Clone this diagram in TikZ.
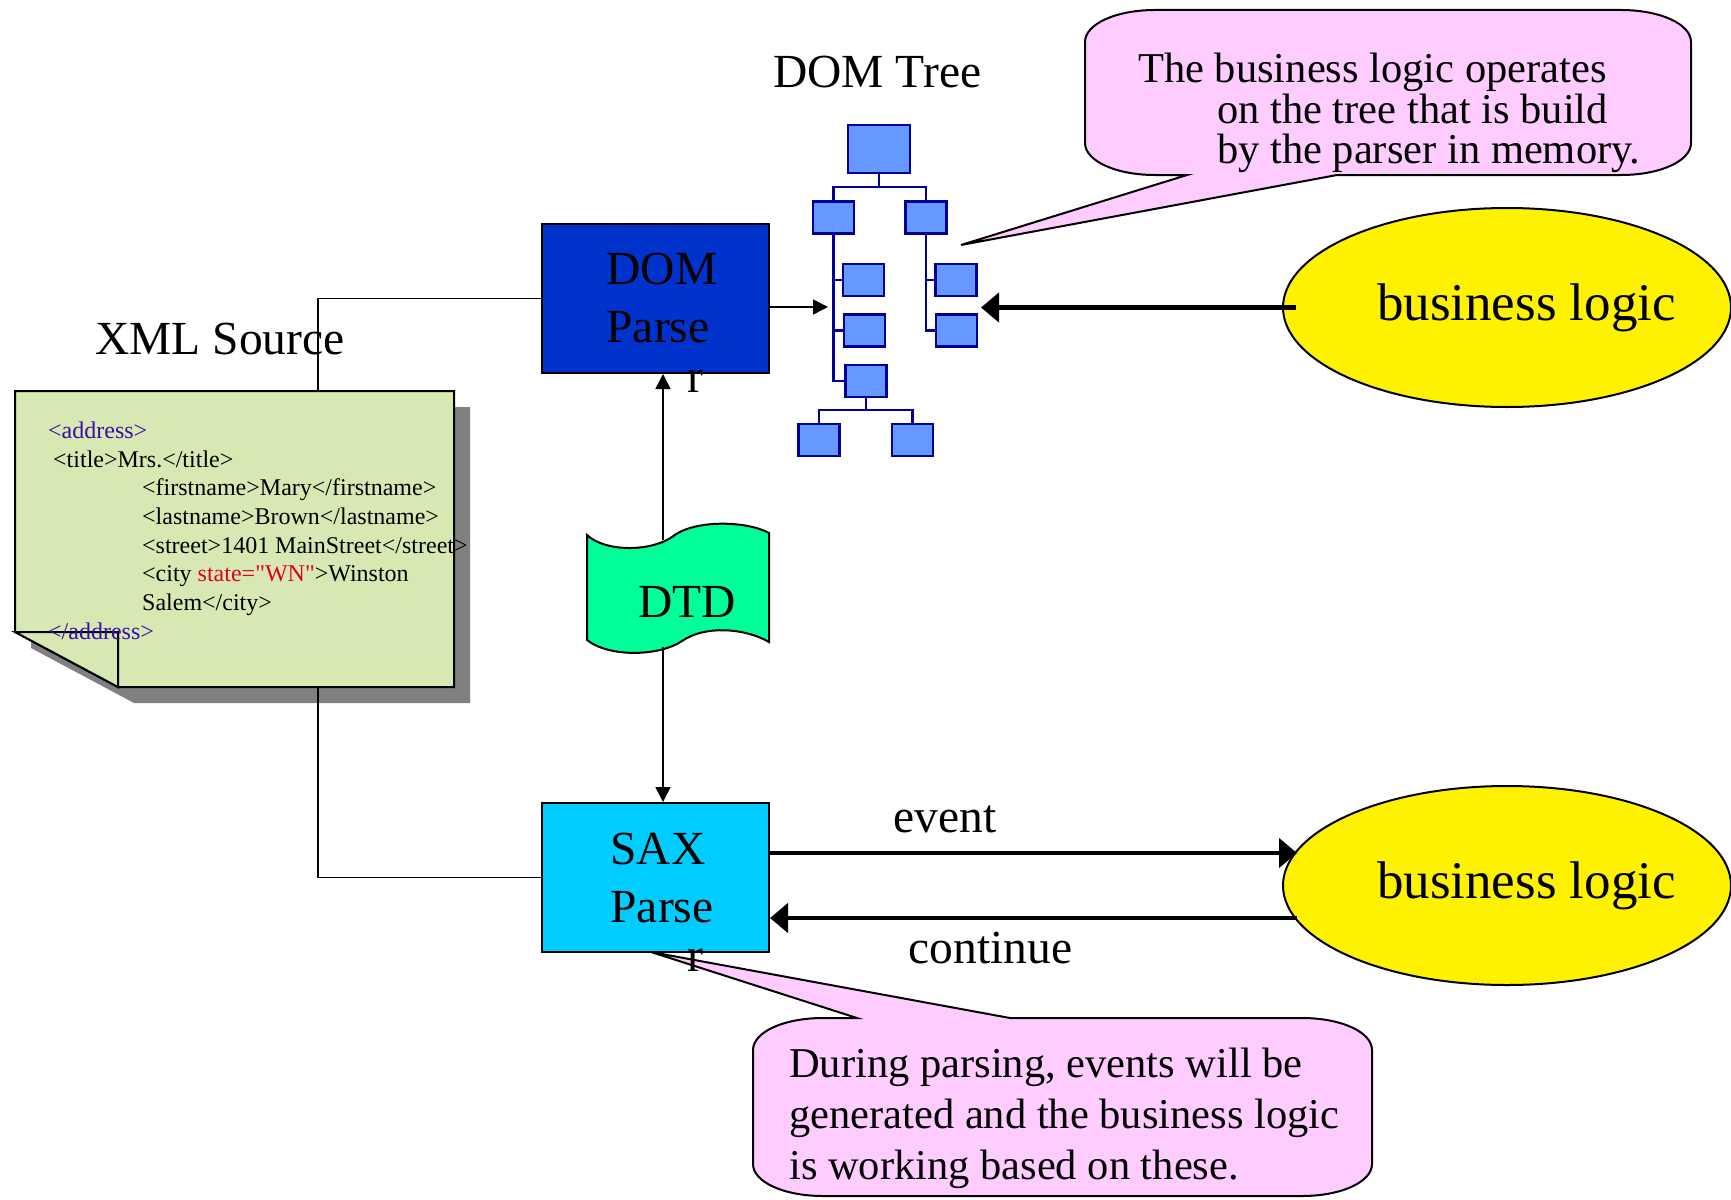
\documentclass[tikz,border=0pt]{standalone}
\usepackage{fontspec}
\setmainfont{Liberation Serif}[Ligatures=TeXOff]
\usetikzlibrary{shapes.geometric,arrows.meta}

\definecolor{domblue}{HTML}{0033CC}
\definecolor{saxblue}{HTML}{00CCFF}
\definecolor{treefill}{HTML}{6699FF}
\definecolor{treeline}{HTML}{000099}
\definecolor{tapegreen}{HTML}{00FF99}
\definecolor{notepink}{HTML}{FFCCFF}
\definecolor{pagegreen}{HTML}{D7E8B2}
\definecolor{tagpurple}{HTML}{3A0DAA}
\definecolor{attrred}{HTML}{E0002A}

\tikzset{
  bigtext/.style={inner sep=0pt, font=\fontsize{47.5}{58}\selectfont},
  parser/.style={draw, line width=2pt, minimum width=227pt, minimum height=149pt,
    inner sep=0pt, align=left, font=\fontsize{47.5}{58}\selectfont},
  logic/.style={ellipse, draw, line width=2pt, fill=yellow, minimum width=448pt,
    minimum height=199pt, inner sep=0pt, font=\fontsize{53}{60}\selectfont},
  treebox/.style={draw=treeline, fill=treefill, line width=2.5pt, minimum width=41pt,
    minimum height=32pt, inner sep=0pt},
  treeedge/.style={draw=treeline, line width=2.5pt},
  wire/.style={line width=1.8pt},
  thinarrow/.style={line width=1.5pt, -{Triangle[length=15pt,width=15pt]}},
  thickarrow/.style={line width=4.5pt, -{Triangle[length=18pt,width=29pt]}},
  bubble/.style={draw, line width=2pt, fill=notepink},
  notetext/.style={anchor=north west, inner sep=0pt, align=left,
    font=\fontsize{42.5}{40.5}\selectfont}
}

\begin{document}
\begin{tikzpicture}[x=1pt,y=-1pt]
\useasboundingbox (0,0) rectangle (1731,1199);

% xml source page
\fill[black!50] (31,407) -- (470,407) -- (470,703) -- (134,703) -- (31,648) -- cycle;
\draw[line width=2pt, fill=pagegreen] (15,391) -- (454,391) -- (454,687) -- (118,687) -- (15,632) -- cycle;
\draw[line width=2pt, fill=pagegreen] (15,632) -- (118,632) -- (118,687) -- cycle;
\node[anchor=north west, inner sep=0pt, align=left, font=\fontsize{24}{28.7}\selectfont] (xmlcode) at (48,421.5) {%
  \textcolor{tagpurple}{<address>}\\
  \hspace*{5pt}<title>Mrs.</title>\\
  \hspace*{94pt}<firstname>Mary</firstname>\\
  \hspace*{94pt}<lastname>Brown</lastname>\\
  \hspace*{94pt}<street>1401 MainStreet</street>\\
  \hspace*{94pt}<city \textcolor{attrred}{state="WN"}>Winston\\
  \hspace*{94pt}Salem</city>\\
  \textcolor{tagpurple}{</address>}};
\node[bigtext, anchor=base west] (xmlsrc) at (95,354) {XML Source};

% parsers
\node[parser, fill=domblue] (domp) at (655.5,298.5) {\hspace*{13pt}DOM\\\hspace*{13pt}Parse};
\node[parser, fill=saxblue] (sax) at (655.5,877.5) {\hspace*{13pt}SAX\\\hspace*{13pt}Parse};

\coordinate (srctop) at (318,391);
\coordinate (srcbot) at (318,687);
\draw[wire] (srctop) |- (domp.west);
\draw[wire] (srcbot) |- (sax.west);

% dtd tape
\draw[line width=2pt, fill=tapegreen] (587,535) .. controls (605,552) and (650,552) .. (672,537)
  .. controls (692,520) and (745,520) .. (769,533) -- (769,642)
  .. controls (745,628) and (705,625) .. (682,641)
  .. controls (660,656) and (610,658) .. (587,640) -- cycle;
\node[bigtext, anchor=base west] (dtd) at (638,617) {DTD};
\coordinate (dtdtop) at (663,540);
\coordinate (dtdbot) at (663,647);
\draw[thinarrow] (dtdtop) -- (dtdtop |- domp.south);
\draw[thinarrow] (dtdbot) -- (dtdbot |- sax.north);

% dom tree
\node[bigtext, anchor=base west] (treelabel) at (773,88) {DOM Tree};
\node[treebox, minimum width=62pt, minimum height=48pt] (root) at (879,149) {};
\node[treebox] (ta) at (833.5,217.5) {};
\node[treebox] (tb) at (926,217.5) {};
\node[treebox] (tc1) at (863.5,280) {};
\node[treebox] (tc2) at (864.5,330.5) {};
\node[treebox] (tc3) at (866,381) {};
\node[treebox] (td1) at (819,440) {};
\node[treebox] (td2) at (912.5,440) {};
\node[treebox] (te1) at (956,280) {};
\node[treebox] (te2) at (956.5,330.5) {};
\coordinate (rootfork) at (879,187);
\coordinate (c3fork) at (866,410);
\draw[treeedge] (root.south) -- (rootfork) -| (ta.north);
\draw[treeedge] (rootfork) -| (tb.north);
\draw[treeedge] (ta.south) |- (tc1.west);
\draw[treeedge] (ta.south) |- (tc2.west);
\draw[treeedge] (ta.south) |- (tc3.west);
\draw[treeedge] (tc3.south) -- (c3fork) -| (td1.north);
\draw[treeedge] (c3fork) -| (td2.north);
\draw[treeedge] (tb.south) |- (te1.west);
\draw[treeedge] (tb.south) |- (te2.west);

\coordinate (treehit) at (828,307);
\draw[thinarrow] (treehit -| domp.east) -- (treehit);

% business logic
\node[logic] (blogdom) at (1507,307.5) {\makebox[0pt]{\hspace*{39pt}business logic}};
\node[logic] (blogsax) at (1507,885.5) {\makebox[0pt]{\hspace*{39pt}business logic}};
\coordinate (domhit) at (981,307.5);
\draw[thickarrow] ([xshift=14pt]blogdom.west) -- (domhit);
\coordinate (evthit) at (1297,853);
\coordinate (cntstart) at (1297,918);
\draw[thickarrow] (evthit -| sax.east) -- (evthit);
\draw[thickarrow] (cntstart) -- (cntstart -| sax.east);
\node[bigtext, anchor=base] (evtlabel) at (945,832) {event};
\node[bigtext, anchor=base] (cntlabel) at (990.5,963) {continue};

% callouts
\coordinate (domnotetip) at (961,245);
\draw[bubble] (1155,10) -- (1621,10) .. controls (1660,10) and (1691,24) .. (1691,42)
  -- (1691,143) .. controls (1691,161) and (1660,175) .. (1621,175)
  -- (1337,175) -- (domnotetip) -- (1187,175) -- (1155,175)
  .. controls (1116,175) and (1085,161) .. (1085,143)
  -- (1085,42) .. controls (1085,24) and (1116,10) .. (1155,10) -- cycle;
\node[notetext] (domnote) at (1138,53) {The business logic operates\\
  \hspace*{79pt}on the tree that is build\\
  \hspace*{79pt}by the parser in memory.};

\coordinate (saxnotetip) at (651,952);
\draw[bubble] (823,1018) -- (857,1018) -- (saxnotetip) -- (1010,1018) -- (1302,1018)
  .. controls (1341,1018) and (1372,1032) .. (1372,1050)
  -- (1372,1164) .. controls (1372,1182) and (1341,1196) .. (1302,1196)
  -- (823,1196) .. controls (784,1196) and (753,1182) .. (753,1164)
  -- (753,1050) .. controls (753,1032) and (784,1018) .. (823,1018) -- cycle;
\node[notetext, font=\fontsize{42.5}{51}\selectfont] (saxnote) at (789,1048) {During parsing, events will be\\
  generated and the business logic\\
  is working based on these.};

\node[bigtext, anchor=base west] (domr) at (687,392) {r};
\node[bigtext, anchor=base west] (saxr) at (687,971) {r};
\end{tikzpicture}
\end{document}
